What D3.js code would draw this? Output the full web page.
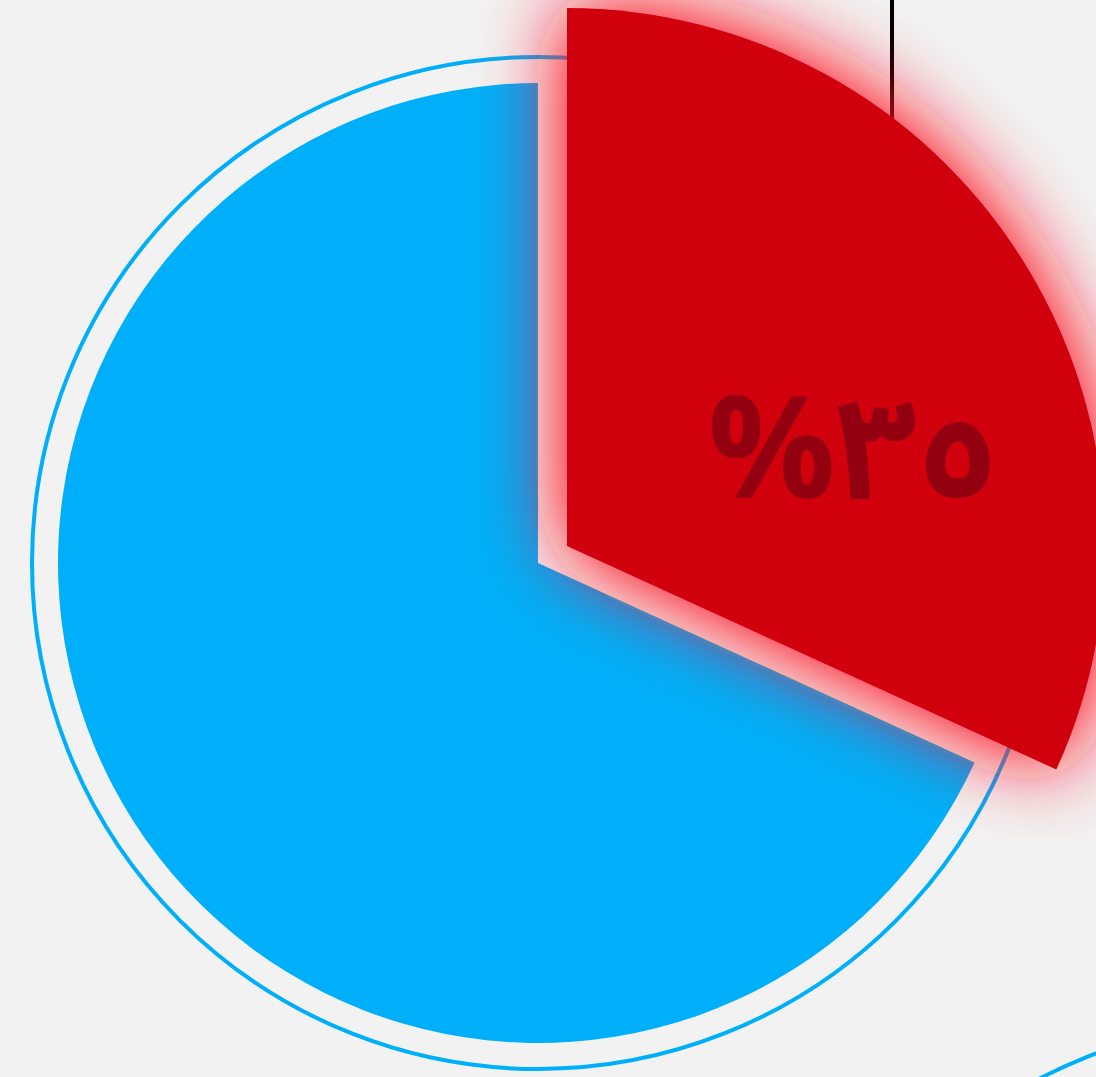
<!DOCTYPE html>
<html>
<head>
<meta charset="utf-8">
<script src="https://cdn.jsdelivr.net/npm/d3@7"></script>
<style>
  html, body { margin: 0; padding: 0; background: #f2f2f2; }
</style>
</head>
<body>
<div id="viz"></div>
<script>
// data
var categories = ["other", "share"];
var values = [75, 35];
var labels = ["", "٣٥%"];
var colors = ["#00aff9", "#d10010"];

var width = 1096, height = 1077;

var svg = d3.select("#viz")
  .append("svg")
    .attr("width", width)
    .attr("height", height);

svg.append("rect")
  .attr("width", width)
  .attr("height", height)
  .attr("fill", "#f2f2f2");

// glow filter for the pulled out slice
var defs = svg.append("defs");
var glow = defs.append("filter")
  .attr("id", "glow")
  .attr("filterUnits", "userSpaceOnUse")
  .attr("x", -300).attr("y", -800)
  .attr("width", 1200).attr("height", 1400);
glow.append("feGaussianBlur")
  .attr("in", "SourceAlpha")
  .attr("stdDeviation", 42)
  .attr("result", "blur");
glow.append("feComponentTransfer")
  .attr("in", "blur")
  .attr("result", "blur2")
  .append("feFuncA")
    .attr("type", "linear")
    .attr("slope", 1.25);
glow.append("feFlood")
  .attr("flood-color", "#ff1424")
  .attr("flood-opacity", 1);
glow.append("feComposite")
  .attr("in2", "blur2")
  .attr("operator", "in")
  .attr("result", "glowColor");
var merge = glow.append("feMerge");
merge.append("feMergeNode").attr("in", "glowColor");
merge.append("feMergeNode").attr("in", "SourceGraphic");

var cx = 538, cy = 563, radius = 480;

// piece of the next chart's ring, bottom right
svg.append("circle")
  .attr("cx", 1274)
  .attr("cy", 1527)
  .attr("r", 506)
  .attr("fill", "none")
  .attr("stroke", "#00aff9")
  .attr("stroke-width", 4);

// outer ring
svg.append("circle")
  .attr("cx", cx)
  .attr("cy", cy)
  .attr("r", 506)
  .attr("fill", "none")
  .attr("stroke", "#00aff9")
  .attr("stroke-width", 4);

// pie in clockwise order starting from the top: share first
var order = [1, 0];
var pie = d3.pie().sort(null).value(function(i) { return values[i]; });
var arcs = pie(order);

var arc = d3.arc().innerRadius(0).outerRadius(radius);
var bigArc = d3.arc().innerRadius(0).outerRadius(538);

// the blue one
svg.append("g")
  .attr("transform", "translate(" + cx + "," + cy + ")")
  .append("path")
  .attr("d", arc(arcs[1]))
  .attr("fill", colors[0]);

// leader line
svg.append("line")
  .attr("x1", 892).attr("x2", 892)
  .attr("y1", 0).attr("y2", 120)
  .attr("stroke", "#000")
  .attr("stroke-width", 4);

// pulled out slice
var g = svg.append("g")
  .attr("transform", "translate(" + (cx + 29) + "," + (cy - 17) + ")");
g.append("path")
  .attr("d", bigArc(arcs[0]))
  .attr("fill", colors[1])
  .attr("filter", "url(#glow)");

g.append("text")
  .attr("x", 286)
  .attr("y", -48)
  .attr("text-anchor", "middle")
  .attr("direction", "rtl")
  .attr("font-family", "'Noto Sans Arabic', 'Noto Kufi Arabic', 'Noto Naskh Arabic', 'Noto Sans', 'DejaVu Sans'")
  .attr("font-weight", "bold")
  .attr("font-size", "142px")
  .attr("fill", "#930010")
  .text(labels[1]);
</script>
</body>
</html>
